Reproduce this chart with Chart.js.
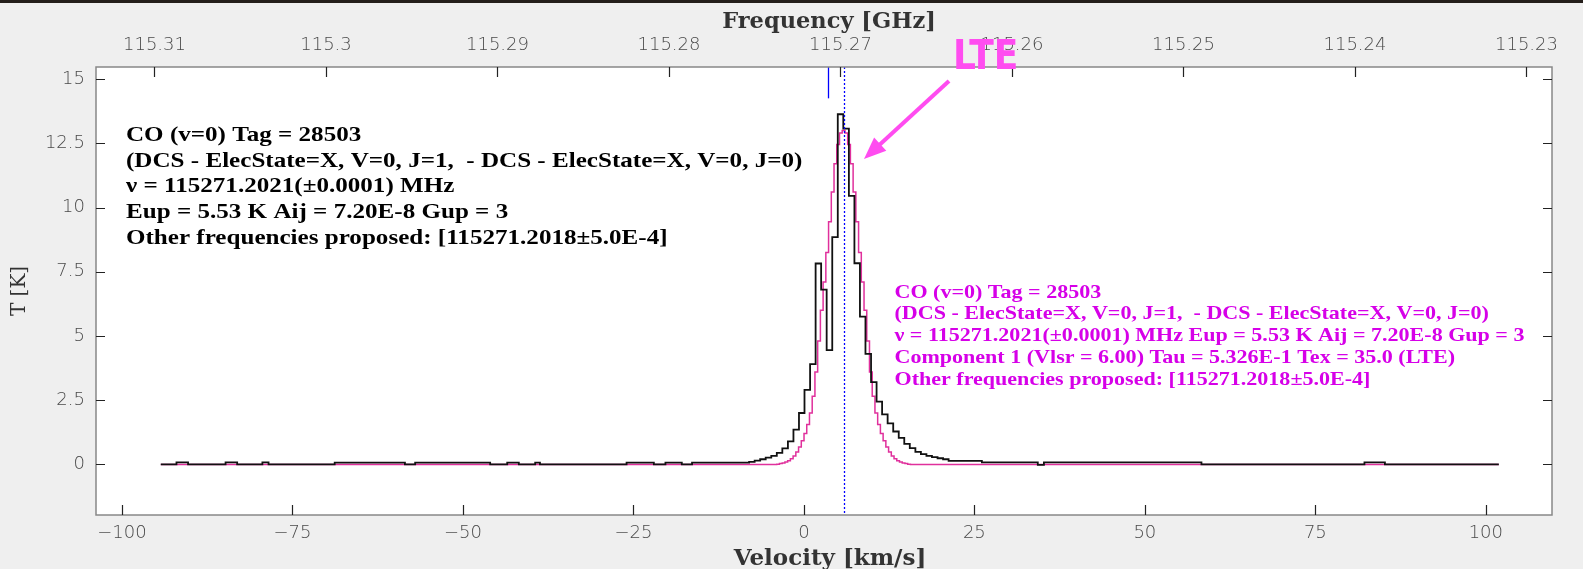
<!DOCTYPE html>
<html>
<head>
<meta charset="utf-8">
<script src="https://cdn.jsdelivr.net/npm/chart.js@4.4.1/dist/chart.umd.min.js"></script>
<style>
  html, body { margin: 0; padding: 0; background: #efefef; }
</style>
</head>
<body>
<canvas id="spec" width="1583" height="569"></canvas>
<script>
// observed spectrum: left edge of each step (km/s) and its temperature (K)
const obsVel = [-94.3, -92.0, -90.3, -84.8, -83.1, -79.4, -78.5, -68.8, -58.5, -57.0, -46.0, -43.5, -41.8, -39.4, -38.7,
  -26.0, -22.0, -20.3, -17.9, -16.4, -8.03, -7.22, -6.41, -5.60, -4.78, -3.97, -3.16, -2.34, -1.53, -0.72,
  0.09, 0.91, 1.72, 2.53, 3.34, 4.16, 4.97, 5.78, 6.60, 7.41, 8.22, 9.03, 9.85, 10.66, 11.47, 12.28, 13.10,
  13.91, 14.72, 15.53, 16.35, 17.16, 17.97, 18.78, 19.60, 20.41, 21.22, 26.10, 34.3, 35.2, 58.3, 82.2, 85.2, 101.9];
const obsT = [0, 0.08, 0, 0.08, 0, 0.08, 0, 0.07, 0, 0.07, 0, 0.07, 0, 0.07, 0,
  0.07, 0, 0.07, 0, 0.07, 0.1, 0.15, 0.2, 0.26, 0.33, 0.45, 0.62, 0.9, 1.35, 2.0,
  2.9, 3.9, 7.82, 6.8, 4.45, 8.85, 13.63, 13.07, 10.45, 7.83, 5.75, 4.3, 3.2, 2.44, 1.95, 1.6, 1.28,
  1.03, 0.8, 0.63, 0.49, 0.40, 0.33, 0.28, 0.24, 0.2, 0.14, 0.08, -0.02, 0.08, 0, 0.08, 0, 0];

// LTE model (magenta)
const modelVel = [-94.3, -3.98, -3.58, -3.18, -2.78, -2.38, -1.98, -1.58, -1.18, -0.78, -0.38, 0.02, 0.42, 0.82,
  1.22, 1.62, 2.02, 2.42, 2.82, 3.22, 3.62, 4.02, 4.42, 4.82, 5.22, 5.62, 6.02, 6.42, 6.82, 7.22, 7.62, 8.02,
  8.42, 8.82, 9.22, 9.62, 10.02, 10.42, 10.82, 11.22, 11.62, 12.02, 12.42, 12.82, 13.22, 13.62, 14.02, 14.42,
  14.82, 15.22, 15.62, 101.9];
const modelT = [0, 0.01, 0.03, 0.05, 0.09, 0.14, 0.22, 0.33, 0.48, 0.68, 0.92, 1.2, 1.55, 2.0,
  2.65, 3.6, 4.8, 6.0, 7.1, 8.25, 9.45, 10.6, 11.7, 12.45, 12.9, 13.0, 12.9, 12.45, 11.7, 10.6, 9.45, 8.25,
  7.1, 6.0, 4.8, 3.6, 2.65, 2.0, 1.55, 1.2, 0.92, 0.68, 0.48, 0.33, 0.22, 0.14, 0.09, 0.05,
  0.03, 0.01, 0, 0];

const velTicks = [-100, -75, -50, -25, 0, 25, 50, 75, 100];
const tempTicks = [0, 2.5, 5, 7.5, 10, 12.5, 15];
const freqTicks = [115.31, 115.30, 115.29, 115.28, 115.27, 115.26, 115.25, 115.24, 115.23];

const restVel = 3.58;   // blue marker of the catalogue line
const vlsr = 5.85;      // dotted blue line

const infoLines = [
  "CO (v=0) Tag = 28503",
  "(DCS - ElecState=X, V=0, J=1,  - DCS - ElecState=X, V=0, J=0)",
  "\u03bd = 115271.2021(\u00b10.0001) MHz",
  "Eup = 5.53 K Aij = 7.20E-8 Gup = 3",
  "Other frequencies proposed: [115271.2018\u00b15.0E-4]"
];
const fitLines = [
  "CO (v=0) Tag = 28503",
  "(DCS - ElecState=X, V=0, J=1,  - DCS - ElecState=X, V=0, J=0)",
  "\u03bd = 115271.2021(\u00b10.0001) MHz Eup = 5.53 K Aij = 7.20E-8 Gup = 3",
  "Component 1 (Vlsr = 6.00) Tau = 5.326E-1 Tex = 35.0 (LTE)",
  "Other frequencies proposed: [115271.2018\u00b15.0E-4]"
];

const tickFont = { family: "'DejaVu Sans', sans-serif", size: 18, weight: 200 };
const minus = v => String(v).replace('-', '\u2212');

function stretchedText(ctx, s, x, y, sx) {
  ctx.save();
  ctx.translate(x, y);
  ctx.scale(sx, 1);
  ctx.fillText(s, 0, 0);
  ctx.restore();
}

const decor = {
  id: 'decor',
  beforeDraw(chart) {
    const { ctx, chartArea: a } = chart;
    ctx.save();
    ctx.fillStyle = '#efefef';
    ctx.fillRect(0, 0, chart.width, chart.height);
    ctx.fillStyle = '#241e1a';
    ctx.fillRect(0, 0, chart.width, 3);
    ctx.fillStyle = '#ffffff';
    ctx.fillRect(a.left, a.top, a.right - a.left, a.bottom - a.top);
    ctx.restore();
  },
  afterDatasetsDraw(chart) {
    const { ctx, chartArea: a, scales } = chart;
    const x = scales.x, y = scales.y, f = scales.x2;
    ctx.save();
    // blue markers
    ctx.strokeStyle = '#0000ff';
    ctx.lineWidth = 1.3;
    const rx = Math.round(x.getPixelForValue(restVel)) + 0.5;
    ctx.beginPath(); ctx.moveTo(rx, a.top); ctx.lineTo(rx, y.getPixelForValue(14.25)); ctx.stroke();
    const dx = Math.round(x.getPixelForValue(vlsr)) + 0.5;
    ctx.setLineDash([2, 2]);
    ctx.beginPath(); ctx.moveTo(dx, a.top); ctx.lineTo(dx, a.bottom); ctx.stroke();
    ctx.setLineDash([]);

    // frame and inward ticks
    ctx.strokeStyle = '#888';
    ctx.lineWidth = 1.5;
    ctx.strokeRect(a.left, a.top, a.right - a.left, a.bottom - a.top);
    ctx.strokeStyle = '#222';
    ctx.lineWidth = 1.2;
    ctx.beginPath();
    x.ticks.forEach((t, i) => { const p = Math.round(x.getPixelForTick(i)) + 0.5; ctx.moveTo(p, a.bottom); ctx.lineTo(p, a.bottom - 10); });
    f.ticks.forEach((t, i) => { const p = Math.round(f.getPixelForTick(i)) + 0.5; ctx.moveTo(p, a.top); ctx.lineTo(p, a.top + 10); });
    y.ticks.forEach((t, i) => {
      const p = Math.round(y.getPixelForTick(i)) + 0.5;
      ctx.moveTo(a.left, p); ctx.lineTo(a.left + 9, p);
      ctx.moveTo(a.right, p); ctx.lineTo(a.right - 9, p);
    });
    ctx.stroke();
    ctx.restore();
  },
  afterDraw(chart) {
    const { ctx } = chart;
    ctx.save();
    // axis titles
    ctx.fillStyle = '#333';
    ctx.textAlign = 'center';
    ctx.textBaseline = 'alphabetic';
    ctx.font = "bold 22.5px 'DejaVu Serif', serif";
    ctx.fillText('Frequency [GHz]', 829, 28);
    ctx.font = "bold 23px 'DejaVu Serif', serif";
    ctx.fillText('Velocity [km/s]', 830, 565);
    ctx.textAlign = 'left';

    ctx.fillStyle = '#000';
    ctx.font = "bold 22px 'Liberation Serif', serif";
    infoLines.forEach((s, i) => stretchedText(ctx, s, 126, 141 + i * 25.7, 1.14));
    ctx.fillStyle = '#d600e8';
    ctx.font = "bold 19px 'Liberation Serif', serif";
    fitLines.forEach((s, i) => stretchedText(ctx, s, 894.5, 297.5 + i * 21.9, 1.16));

    // LTE label with arrow
    ctx.fillStyle = '#ff4cf0';
    ctx.strokeStyle = '#ff4cf0';
    ctx.font = "bold 40px 'Liberation Sans Narrow', 'DejaVu Sans Condensed', sans-serif";
    ctx.fillText('LTE', 953, 69);
    const x0 = 949, y0 = 81, x1 = 864, y1 = 159;
    const ang = Math.atan2(y1 - y0, x1 - x0);
    ctx.lineWidth = 4;
    ctx.beginPath();
    ctx.moveTo(x0, y0);
    ctx.lineTo(x1 - 16 * Math.cos(ang), y1 - 16 * Math.sin(ang));
    ctx.stroke();
    ctx.beginPath();
    ctx.moveTo(x1, y1);
    ctx.lineTo(x1 - 22 * Math.cos(ang) + 9 * Math.sin(ang), y1 - 22 * Math.sin(ang) - 9 * Math.cos(ang));
    ctx.lineTo(x1 - 22 * Math.cos(ang) - 9 * Math.sin(ang), y1 - 22 * Math.sin(ang) + 9 * Math.cos(ang));
    ctx.closePath();
    ctx.fill();
    ctx.restore();
  }
};

new Chart(document.getElementById('spec'), {
  type: 'line',
  data: {
    datasets: [
      {
        label: 'observed',
        data: obsVel.map((v, i) => ({ x: v, y: obsT[i] })),
        stepped: 'before',
        borderColor: '#111111',
        borderWidth: 1.8,
        pointRadius: 0,
        order: 0
      },
      {
        label: 'LTE model',
        data: modelVel.map((v, i) => ({ x: v, y: modelT[i] })),
        stepped: 'before',
        borderColor: '#e0309c',
        borderWidth: 1.5,
        pointRadius: 0,
        order: 1
      }
    ]
  },
  options: {
    responsive: false,
    animation: false,
    layout: { padding: { left: 0, right: 31, top: 0, bottom: 0 } },
    plugins: { legend: { display: false }, tooltip: { enabled: false } },
    scales: {
      x: {
        type: 'linear',
        position: 'bottom',
        min: -103.8,
        max: 109.7,
        afterBuildTicks: s => { s.ticks = velTicks.map(v => ({ value: v })); },
        afterFit: s => { s.height = 54; },
        grid: { display: false, drawTicks: false },
        border: { display: false },
        ticks: { font: tickFont, color: '#4a4a4a', padding: 8, maxRotation: 0, autoSkip: false, callback: minus }
      },
      x2: {
        type: 'linear',
        position: 'top',
        reverse: true,
        min: 115.228513,
        max: 115.313411,
        afterBuildTicks: s => { s.ticks = freqTicks.map(v => ({ value: v })); },
        afterFit: s => { s.height = 67; },
        grid: { display: false, drawTicks: false },
        border: { display: false },
        ticks: { font: tickFont, color: '#4a4a4a', padding: 11, maxRotation: 0, autoSkip: false, callback: v => String(v) }
      },
      y: {
        type: 'linear',
        position: 'left',
        min: -1.97,
        max: 15.47,
        afterBuildTicks: s => { s.ticks = tempTicks.map(v => ({ value: v })); },
        afterFit: s => { s.width = 96; },
        grid: { display: false, drawTicks: false },
        border: { display: false },
        ticks: { font: tickFont, color: '#4a4a4a', padding: 11, callback: v => String(v) },
        title: { display: true, text: 'T [K]', font: { family: "'DejaVu Serif', serif", size: 20, weight: 'normal' }, color: '#333', padding: { top: 8, bottom: 0 } }
      }
    }
  },
  plugins: [decor]
});
</script>
</body>
</html>
